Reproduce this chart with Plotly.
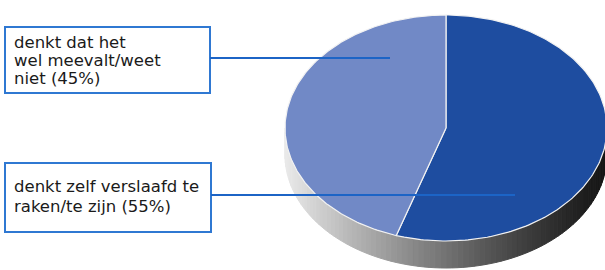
import numpy as np
import plotly.graph_objects as go

# ---- data ----
categories = ["denkt zelf verslaafd te raken/te zijn", "denkt dat het wel meevalt/weet niet"]
values = [55, 45]
label_lines = [
    ["denkt zelf verslaafd te", "raken/te zijn (55%)"],
    ["denkt dat het", "wel meevalt/weet", "niet (45%)"],
]
slice_colors = ["#1E4DA0", "#7189C6"]

# ---- geometry (pixel-like axes) ----
W, H = 605, 270
cx, cy, rx, ry, depth = 446, 128, 161, 113, 27

fig = go.Figure()

# side (3D depth) drawn as shaded strips along the lower half of the ellipse
n = 90
ts = np.linspace(0, np.pi, n + 1)
for i in range(n):
    t = np.linspace(ts[i], ts[i + 1], 4)
    xt = cx + rx * np.cos(t)
    yt = cy + ry * np.sin(t)
    xs = np.concatenate([xt, xt[::-1], xt[:1]])
    ys = np.concatenate([yt, yt[::-1] + depth, yt[:1]])
    frac = (1 - np.cos((ts[i] + ts[i + 1]) / 2)) / 2  # 0 right .. 1 left
    g = int(22 + 212 * frac ** 1.2)
    col = f"rgb({g},{g},{g})"
    fig.add_trace(go.Scatter(x=xs, y=ys, mode="lines", fill="toself",
                             fillcolor=col, line=dict(color=col, width=1),
                             hoverinfo="skip", showlegend=False))

# top slices
total = sum(values)
start = -np.pi / 2
for v, c in zip(values, slice_colors):
    end = start + 2 * np.pi * v / total
    t = np.linspace(start, end, 200)
    xs = np.concatenate([[cx], cx + rx * np.cos(t), [cx]])
    ys = np.concatenate([[cy], cy + ry * np.sin(t), [cy]])
    fig.add_trace(go.Scatter(x=xs, y=ys, mode="lines", fill="toself",
                             fillcolor=c, line=dict(color="#F2F2F2", width=1.2),
                             hoverinfo="skip", showlegend=False))
    start = end

# label boxes, text, leader lines
boxes = [  # (x0, y0, x1, y1, line_y, line_end_x, first_line_center, pitch)
    (5, 163, 211, 232, 195, 515, 186.5, 19.5),
    (5, 27, 210, 93, 58, 390, 42.5, 18.2),
]
shapes = []
annotations = []
for lines, (x0, y0, x1, y1, ly, lx, fy, pitch) in zip(label_lines, boxes):
    shapes.append(dict(type="rect", x0=x0, y0=y0, x1=x1, y1=y1, xref="x", yref="y",
                       line=dict(color="#2F78D2", width=2), fillcolor="white"))
    shapes.append(dict(type="line", x0=x1, y0=ly, x1=lx, y1=ly, xref="x", yref="y",
                       line=dict(color="#1C64C6", width=2)))
    for k, s in enumerate(lines):
        annotations.append(dict(x=x0 + 7, y=fy + k * pitch, xref="x", yref="y",
                                text=s, showarrow=False, xanchor="left", yanchor="middle",
                                font=dict(family="DejaVu Sans", size=16.5, color="#1A1A1A")))

fig.update_layout(
    width=W, height=H, margin=dict(l=0, r=0, t=0, b=0),
    paper_bgcolor="white", plot_bgcolor="white",
    xaxis=dict(range=[0, W], visible=False, fixedrange=True),
    yaxis=dict(range=[H, 0], visible=False, fixedrange=True),
    shapes=shapes, annotations=annotations,
)
fig.write_html("out.html", config={"displayModeBar": False},
               post_script="document.body.style.margin='0';document.body.style.overflow='hidden';")
